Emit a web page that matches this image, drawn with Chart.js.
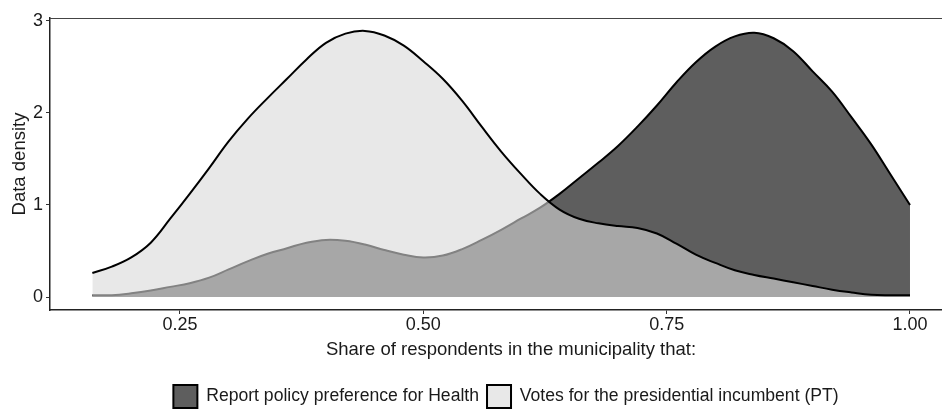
<!DOCTYPE html>
<html>
<head>
<meta charset="utf-8">
<script src="https://cdn.jsdelivr.net/npm/chart.js@4"></script>
<style>
  html, body { margin: 0; padding: 0; background: #ffffff; }
  #wrap { width: 942px; height: 410px; position: relative; overflow: hidden; }
</style>
</head>
<body>
<div id="wrap"><canvas id="chart" width="942" height="410"></canvas></div>
<script>
// Sample positions along the share axis
const shareGrid = [0.16, 0.18, 0.20, 0.22, 0.24, 0.26, 0.28, 0.30, 0.32, 0.34,
  0.36, 0.38, 0.40, 0.42, 0.44, 0.46, 0.48, 0.50, 0.52, 0.54,
  0.56, 0.58, 0.60, 0.62, 0.64, 0.66, 0.68, 0.70, 0.72, 0.74,
  0.76, 0.78, 0.80, 0.82, 0.84, 0.86, 0.88, 0.90, 0.92, 0.94,
  0.96, 0.98, 1.00];

// Density: report policy preference for Health
const healthDensity = [0.02, 0.02, 0.04, 0.07, 0.11, 0.15, 0.21, 0.30, 0.39, 0.47,
  0.53, 0.59, 0.62, 0.61, 0.57, 0.51, 0.46, 0.43, 0.45, 0.52,
  0.62, 0.73, 0.85, 0.97, 1.12, 1.29, 1.46, 1.64, 1.85, 2.08,
  2.33, 2.55, 2.72, 2.83, 2.87, 2.81, 2.67, 2.45, 2.23, 1.95,
  1.66, 1.33, 1.00];

// Density: votes for the presidential incumbent (PT)
const votesDensity = [0.26, 0.33, 0.43, 0.59, 0.85, 1.12, 1.40, 1.69, 1.94, 2.16,
  2.37, 2.58, 2.76, 2.86, 2.89, 2.84, 2.73, 2.56, 2.37, 2.13,
  1.85, 1.58, 1.34, 1.12, 0.95, 0.85, 0.80, 0.77, 0.75, 0.69,
  0.58, 0.46, 0.37, 0.29, 0.24, 0.20, 0.16, 0.12, 0.08, 0.05,
  0.025, 0.02, 0.02];

const xTicks = [0.25, 0.50, 0.75, 1.00];
const yTicks = [0, 1, 2, 3];

const seriesNames = ['Report policy preference for Health', 'Votes for the presidential incumbent (PT)'];

const toPoints = (ys) => shareGrid.map((x, i) => ({ x: x, y: ys[i] }));

const FONT = "'Liberation Sans', Arial, Helvetica, sans-serif";
Chart.defaults.font.family = FONT;
Chart.defaults.color = '#1a1a1a';

// Panel top border running to the right edge
const topBorder = {
  id: 'topBorder',
  afterDraw(chart) {
    const { ctx, chartArea } = chart;
    ctx.save();
    ctx.strokeStyle = '#444444';
    ctx.lineWidth = 1.2;
    ctx.beginPath();
    ctx.moveTo(chartArea.left, chartArea.top + 0.5);
    ctx.lineTo(chart.width, chartArea.top + 0.5);
    ctx.stroke();
    ctx.restore();
  }
};

// The panel continues past the right edge of the canvas; widen the x scale
// accordingly and centre the legend beneath it.
const PANEL_OVERHANG = 30;
const panelOverhang = {
  id: 'panelOverhang',
  afterLayout(chart) {
    const xs = chart.scales.x;
    xs.right += PANEL_OVERHANG;
    xs.width += PANEL_OVERHANG;
    xs.configure();
    chart.chartArea.right += PANEL_OVERHANG;
    chart.chartArea.width += PANEL_OVERHANG;

    const lg = chart.legend;
    if (!lg) return;
    const target = (chart.chartArea.left + chart.chartArea.right) / 2 - 5;
    const dx = target - (lg.left + lg.right) / 2;
    lg.left += dx;
    lg.right += dx;
  }
};

new Chart(document.getElementById('chart'), {
  type: 'line',
  data: {
    datasets: [
      {
        label: seriesNames[0],
        data: toPoints(healthDensity),
        backgroundColor: '#5e5e5e',
        borderColor: '#000000',
        borderWidth: 2,
        fill: 'origin',
        pointRadius: 0,
        tension: 0.4,
        order: 1
      },
      {
        label: seriesNames[1],
        data: toPoints(votesDensity),
        backgroundColor: 'rgba(217,217,217,0.6)',
        borderColor: '#000000',
        borderWidth: 2,
        fill: 'origin',
        pointRadius: 0,
        tension: 0.4,
        order: 0
      }
    ]
  },
  options: {
    responsive: false,
    animation: false,
    events: [],
    layout: { padding: { top: 18, right: 0, left: 0, bottom: -8 } },
    plugins: {
      tooltip: { enabled: false },
      legend: {
        position: 'bottom',
        labels: {
          font: { size: 17.6 },
          color: '#1a1a1a',
          boxWidth: 24,
          boxHeight: 23,
          padding: 8,
          sort: (a, b) => a.datasetIndex - b.datasetIndex,
          generateLabels(chart) {
            const items = Chart.defaults.plugins.legend.labels.generateLabels(chart);
            items.forEach(it => {
              it.fillStyle = it.datasetIndex === 0 ? '#5e5e5e' : '#e8e8e8';
              it.strokeStyle = '#000000';
              it.lineWidth = 2;
            });
            return items;
          }
        }
      }
    },
    scales: {
      x: {
        type: 'linear',
        min: 0.1165,
        max: 1.0637,
        afterBuildTicks(scale) { scale.ticks = xTicks.map(v => ({ value: v })); },
        afterFit(scale) { scale.height = 67; },
        ticks: {
          font: { size: 18 },
          color: '#1a1a1a',
          padding: 0,
          maxRotation: 0,
          autoSkip: false,
          callback: (v) => Number(v).toFixed(2)
        },
        grid: { display: true, drawOnChartArea: false, drawTicks: true, tickLength: 4, color: '#333333' },
        border: { display: true, color: '#222222', width: 1.5 },
        title: {
          display: true,
          text: 'Share of respondents in the municipality that:',
          font: { size: 18.5 },
          color: '#1a1a1a',
          padding: { top: 0, bottom: 16 }
        }
      },
      y: {
        type: 'linear',
        min: -0.141,
        max: 3.03,
        afterBuildTicks(scale) { scale.ticks = yTicks.map(v => ({ value: v })); },
        afterFit(scale) { scale.width = 50; },
        ticks: {
          font: { size: 18 },
          color: '#1a1a1a',
          padding: 3,
          callback: (v) => String(v)
        },
        grid: { display: true, drawOnChartArea: false, drawTicks: true, tickLength: 4, color: '#333333' },
        border: { display: true, color: '#222222', width: 1.5 },
        title: {
          display: true,
          text: 'Data density',
          font: { size: 18.5 },
          color: '#1a1a1a',
          padding: { top: 9, bottom: 0 }
        }
      }
    }
  },
  plugins: [topBorder, panelOverhang]
});
</script>
</body>
</html>
